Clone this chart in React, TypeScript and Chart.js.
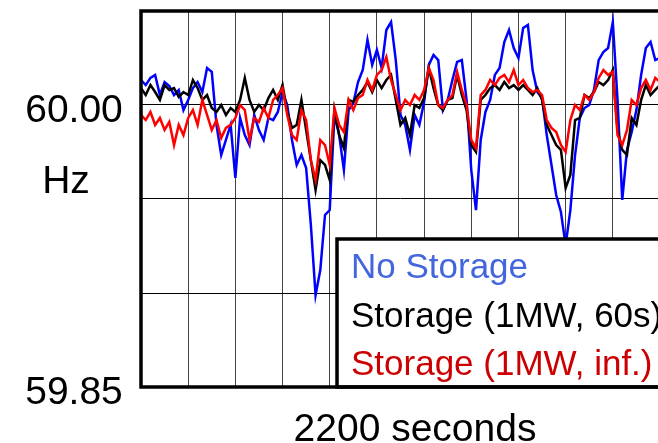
import React, { useEffect, useRef } from "react";
import { Chart, registerables } from "chart.js";

Chart.register(...registerables);

// Sample times (seconds), one sample every 20 s over 2200 s
const seconds: number[] = Array.from({ length: 111 }, (_, i) => i * 20);

const seriesLabels = ["No Storage", "Storage (1MW, 60s)", "Storage (1MW, inf.)"];
const lineColors = ["#0000ff", "#000000", "#ff0000"];
const legendTextColors = ["#4466dd", "#000000", "#cc0000"];

const yTickValues = [60.0, 59.85];
const yTickLabels = ["60.00", "59.85"];
const yUnit = "Hz";
const xTitle = "2200 seconds";

// No Storage (Hz)
const noStorage = [
  60.0133, 60.0106, 60.0144, 60.016, 60.0053, 60.0122, 60.0101, 60.0053, 60.008, 59.9973,
  60.0027, 60.009, 60.0122, 60.0069, 60.0197, 60.0176, 59.9894, 59.9734, 59.9814, 59.9894,
  59.9612, 59.9931, 59.984, 59.9787, 59.9947, 59.9867, 59.9814, 59.9931, 59.992, 59.9963,
  60.0069, 60.0, 59.9814, 59.9681, 59.9734, 59.9665, 59.9362, 59.8989, 59.9122, 59.9415,
  59.9441, 59.9947, 59.984, 59.9654, 59.9973, 60.0011, 60.0122, 60.0186, 60.0346, 60.0213,
  60.0293, 60.0197, 60.0399, 60.0441, 60.0239, 59.9947, 59.9894, 59.9761, 59.9947, 59.9894,
  60.0016, 60.0213, 60.0266, 60.0239, 59.9973, 60.0027, 60.0133, 60.0229, 60.0239, 60.0027,
  59.9654, 59.9441, 59.9814, 59.9963, 60.0027, 60.016, 60.0197, 60.0335, 60.0399, 60.0303,
  60.025, 60.041, 60.0426, 60.0186, 60.0069, 60.0037, 59.984, 59.9681, 59.9521, 59.9431,
  59.9255, 59.9441, 59.9734, 59.9931, 59.9984, 60.0, 60.008, 60.0239, 60.0282, 60.0303,
  60.0441, 60.0027, 59.9495, 59.9761, 59.9856, 59.9973, 60.016, 60.0303, 60.0335, 60.0239,
  60.025,
];

// Storage (1MW, 60s) (Hz)
const storage60s = [
  60.009, 60.0053, 60.0106, 60.0069, 60.0027, 60.0106, 60.008, 60.009, 60.0043, 60.0069,
  60.0053, 60.0133, 60.009, 60.0027, 60.0053, 59.9984, 59.9963, 60.0, 59.9947, 59.9984,
  59.9963, 60.0027, 60.0144, 60.0027, 59.9963, 60.0, 59.9973, 60.0037, 60.008, 60.0027,
  60.0106, 59.9963, 59.9878, 59.9894, 60.0027, 59.9867, 59.9707, 59.9548, 59.9707, 59.9681,
  59.9601, 59.9973, 59.984, 59.9771, 60.0027, 60.0016, 60.0053, 60.008, 60.0122, 60.0069,
  60.0133, 60.009, 60.0133, 60.016, 60.0027, 59.9894, 59.9931, 59.984, 60.0, 59.9984,
  60.0037, 60.0197, 60.009, 60.0, 59.9973, 60.0027, 60.0037, 60.016, 60.0053, 59.9973,
  59.9787, 59.975, 60.0027, 60.0053, 60.009, 60.0106, 60.008, 60.0122, 60.009, 60.0106,
  60.008, 60.0106, 60.008, 60.0053, 60.009, 60.0027, 59.9894, 59.984, 59.9787, 59.9761,
  59.9559, 59.9628, 59.992, 59.9931, 60.0053, 60.0037, 60.0069, 60.0122, 60.0106, 60.0133,
  60.0186, 59.9867, 59.9761, 59.9734, 59.9931, 59.9894, 60.0027, 60.0106, 60.0053, 60.008,
  60.0106,
];

// Storage (1MW, inf.) (Hz)
const storageInf = [
  59.9947, 59.992, 59.9963, 59.9894, 59.9931, 59.9867, 59.991, 59.9787, 59.9894, 59.984,
  59.9931, 59.9973, 59.9894, 60.0027, 59.9947, 59.9867, 59.992, 59.9824, 59.9878, 59.9894,
  59.9931, 60.0, 59.9973, 59.9814, 59.9931, 59.991, 59.9984, 59.9931, 60.0027, 60.0053,
  60.009, 59.9947, 59.984, 59.9814, 59.9973, 59.992, 59.9707, 59.9601, 59.9814, 59.9787,
  59.9681, 59.9984, 59.9894, 59.9856, 60.0027, 59.9973, 60.0037, 60.0053, 60.0133, 60.008,
  60.016, 60.0186, 60.0255, 60.0133, 60.0053, 59.9973, 60.0027, 60.0, 60.0053, 60.0027,
  60.008, 60.0197, 60.0133, 60.0, 59.9984, 60.0027, 60.0053, 60.0176, 60.008, 60.0,
  59.9814, 59.9771, 60.0053, 60.008, 60.0133, 60.0106, 60.0144, 60.016, 60.0122, 60.0186,
  60.0106, 60.0133, 60.009, 60.0069, 60.008, 60.0053, 59.992, 59.9878, 59.9856, 59.9787,
  59.975, 59.992, 60.0, 59.9973, 60.0053, 60.0027, 60.0069, 60.0144, 60.0186, 60.016,
  60.0176, 59.984, 59.9787, 59.9867, 60.0027, 60.0, 60.009, 60.0133, 60.008, 60.0144,
  60.0122,
];

const seriesValues = [noStorage, storage60s, storageInf];

const FONT = '"Liberation Sans", Arial, sans-serif';

const overlayPlugin = {
  id: "overlay",
  afterDatasetsDraw(chart: any) {
    const { ctx, chartArea, scales } = chart;
    const ys = scales.y;
    ctx.save();

    // legend box
    const lx = 337;
    const ly = 239;
    ctx.fillStyle = "#ffffff";
    ctx.fillRect(lx, ly, chart.width - lx + 10, chartArea.bottom - ly);
    ctx.strokeStyle = "#000000";
    ctx.lineWidth = 3.5;
    ctx.strokeRect(lx, ly, chart.width - lx + 10, chartArea.bottom - ly);

    ctx.font = `35px ${FONT}`;
    ctx.textAlign = "left";
    ctx.textBaseline = "alphabetic";
    const baselines = [278, 327, 375];
    chart.data.datasets.forEach((ds: any, i: number) => {
      ctx.fillStyle = legendTextColors[i];
      ctx.fillText(ds.label, 351, baselines[i]);
    });

    // plot frame
    ctx.lineWidth = 3.5;
    ctx.strokeStyle = "#000000";
    ctx.strokeRect(chartArea.left, chartArea.top, chartArea.right - chartArea.left, chartArea.bottom - chartArea.top);

    // y tick labels
    ctx.fillStyle = "#000000";
    ctx.font = `39px ${FONT}`;
    ctx.textAlign = "center";
    yTickValues.forEach((v, i) => {
      const py = ys.getPixelForValue(v);
      ctx.fillText(yTickLabels[i], 74, py + 17);
    });
    ctx.fillText(yUnit, 66, 193);

    // x title
    ctx.fillText(xTitle, 415, 441);
    ctx.restore();
  },
};

export default function App() {
  const ref = useRef<HTMLCanvasElement | null>(null);

  useEffect(() => {
    if (!ref.current) return;
    const order = [3, 2, 1];
    const chart = new Chart(ref.current, {
      type: "line",
      data: {
        datasets: seriesValues.map((vals, si) => ({
          label: seriesLabels[si],
          data: vals.map((v, i) => ({ x: seconds[i], y: v })),
          borderColor: lineColors[si],
          backgroundColor: lineColors[si],
          borderWidth: 2.5,
          pointRadius: 0,
          tension: 0,
          order: order[si],
        })),
      },
      options: {
        animation: false,
        responsive: false,
        maintainAspectRatio: false,
        layout: { padding: { left: 141, top: 11, right: 60, bottom: 56 } },
        plugins: { legend: { display: false }, tooltip: { enabled: false } },
        scales: {
          x: {
            type: "linear",
            min: 0,
            max: 2200,
            ticks: { display: false, stepSize: 200 },
            grid: { color: "#444444", lineWidth: 1, drawTicks: false },
            border: { display: false },
            afterFit: (s: any) => {
              s.height = 0;
            },
          },
          y: {
            type: "linear",
            min: 59.85,
            max: 60.05,
            ticks: { display: false, stepSize: 0.05 },
            grid: { color: "#000000", lineWidth: 1, drawTicks: false },
            border: { display: false },
            afterFit: (s: any) => {
              s.width = 0;
            },
          },
        },
      },
      plugins: [overlayPlugin],
    } as any);
    return () => chart.destroy();
  }, []);

  return (
    <div
      style={{
        position: "fixed",
        left: 0,
        top: 0,
        width: 658,
        height: 443,
        overflow: "hidden",
        background: "#ffffff",
      }}
    >
      <canvas ref={ref} width={720} height={443} style={{ width: 720, height: 443, display: "block" }} />
    </div>
  );
}
